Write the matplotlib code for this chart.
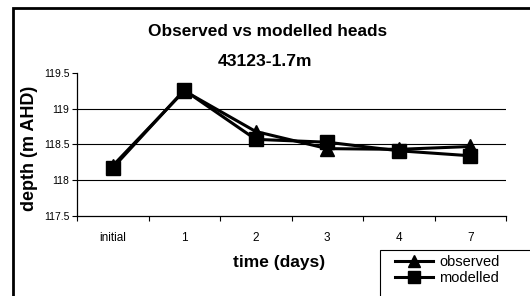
import matplotlib
matplotlib.use("Agg")
import matplotlib.pyplot as plt
from matplotlib.patches import Rectangle
import numpy as np

plt.rcParams['font.family'] = ['Liberation Sans', 'DejaVu Sans']

categories = ["initial", "1", "2", "3", "4", "7"]
observed = [118.20, 119.25, 118.68, 118.44, 118.43, 118.47]
modelled = [118.17, 119.26, 118.57, 118.53, 118.41, 118.34]
yticks = [117.5, 118, 118.5, 119, 119.5]
ytick_labels = ["117.5", "118", "118.5", "119", "119.5"]

fig = plt.figure(figsize=(5.30, 2.96), dpi=100)
fig.patch.set_facecolor("white")

# outer chart frame (extends beyond image on right/bottom)
fig.patches.append(Rectangle((13/530, -0.1), 1.2, 1 - 8/296 + 0.1,
                             transform=fig.transFigure, fill=False,
                             edgecolor="black", linewidth=2.0))

ax = fig.add_axes([77/530, 1 - 215.7/296, (506 - 77)/530, (215.7 - 73)/296])
x = np.arange(len(categories))
ax.plot(x, observed, color="black", linewidth=2.2, marker="^", markersize=10,
        label="observed", zorder=3)
ax.plot(x, modelled, color="black", linewidth=2.2, marker="s", markersize=10.5,
        label="modelled", zorder=3)

ax.set_xlim(-0.5, len(categories) - 0.5)
ax.set_ylim(117.5, 119.5)
ax.set_yticks(yticks)
ax.set_yticklabels(ytick_labels, fontsize=7.5)
ax.set_xticks(x)
ax.set_xticklabels(categories, fontsize=8.5)
ax.set_xticks(np.arange(-0.5, len(categories), 1.0), minor=True)
ax.tick_params(axis="x", which="major", length=0, pad=12)
ax.tick_params(axis="x", which="minor", length=3.6, width=0.8, direction="out")
ax.tick_params(axis="y", length=3.6, width=0.8, direction="out", pad=2)
for s in ["top", "right"]:
    ax.spines[s].set_visible(False)
for s in ["left", "bottom"]:
    ax.spines[s].set_linewidth(0.9)
for yv in [118, 118.5, 119]:
    ax.axhline(yv, color="black", linewidth=0.8, zorder=1)

fig.text(268/530, 1 - 32/296, "Observed vs modelled heads", ha="center",
         va="center", fontsize=12.4, fontweight="bold")
fig.text(265/530, 1 - 61/296, "43123-1.7m", ha="center", va="center",
         fontsize=12.6, fontweight="bold")
fig.text(279/530, 1 - 263/296, "time (days)", ha="center", va="center",
         fontsize=12.5, fontweight="bold")
fig.text(29/530, 1 - 148/296, "depth (m AHD)", ha="center", va="center",
         rotation=90, fontsize=13, fontweight="bold")

# legend box
fig.patches.append(Rectangle((380/530, -0.1), 0.5, 0.1 + 1 - 250/296,
                             transform=fig.transFigure, fill=False,
                             edgecolor="black", linewidth=0.8))
leg = fig.legend(loc="upper left", bbox_to_anchor=(395/530, 1 - 255/296),
                 frameon=False, fontsize=10.5, handlelength=2.6,
                 handletextpad=0.45, labelspacing=0.12, borderpad=0.0,
                 borderaxespad=0.0, markerscale=0.85)

fig.savefig("out.png", dpi=100, facecolor="white")
